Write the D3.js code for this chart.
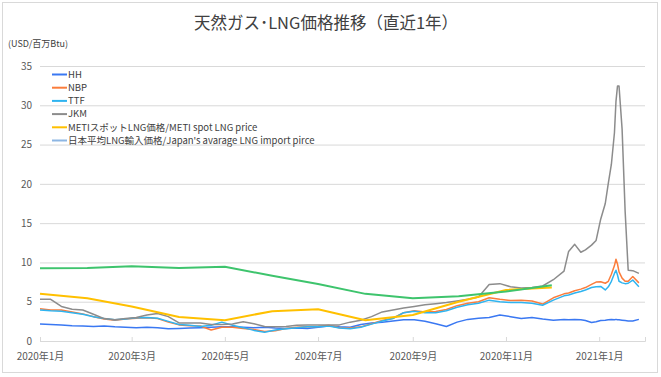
<!DOCTYPE html>
<meta charset="utf-8">
<script src="https://d3js.org/d3.v7.min.js"></script>
<style>
  body { margin: 0; background: #fff; }
  text { font-family: "Noto Sans CJK JP", "Noto Sans", sans-serif; }
</style>
<svg id="chart" width="661" height="377"></svg>
<script>
// daily series (sampled)
const dates = [
  "2020-01-01","2020-01-08","2020-01-15","2020-01-22","2020-01-29","2020-02-05","2020-02-12","2020-02-19","2020-02-26",
  "2020-03-04","2020-03-11","2020-03-18","2020-03-25","2020-04-01","2020-04-08","2020-04-15","2020-04-22","2020-04-29",
  "2020-05-06","2020-05-13","2020-05-20","2020-05-27","2020-06-03","2020-06-10","2020-06-17","2020-06-24","2020-07-01",
  "2020-07-08","2020-07-15","2020-07-22","2020-07-29","2020-08-05","2020-08-12","2020-08-19","2020-08-26","2020-09-02",
  "2020-09-09","2020-09-16","2020-09-23","2020-09-30","2020-10-07","2020-10-14","2020-10-21","2020-10-28","2020-11-04",
  "2020-11-11","2020-11-18","2020-11-25","2020-12-02","2020-12-09",
  "2020-12-12","2020-12-16","2020-12-20","2020-12-23","2020-12-27","2020-12-30",
  "2021-01-02","2021-01-05","2021-01-07","2021-01-09","2021-01-11","2021-01-12","2021-01-13","2021-01-14",
  "2021-01-16","2021-01-18","2021-01-20","2021-01-23","2021-01-27"
];
const hh = [
  2.15,2.1,2.05,1.95,1.9,1.85,1.9,1.8,1.75,1.7,1.75,1.7,1.55,1.6,1.65,1.7,1.75,1.8,1.8,1.75,
  1.7,1.75,1.65,1.6,1.65,1.6,1.75,1.9,1.8,1.75,2.1,2.3,2.4,2.55,2.7,2.7,2.5,2.2,1.85,2.4,
  2.75,2.9,3.0,3.3,3.1,2.85,3.0,2.8,2.65,2.75,
  2.7,2.75,2.7,2.6,2.35,2.45,
  2.6,2.65,2.7,2.75,2.7,2.75,2.7,2.7,2.65,2.6,2.55,2.55,2.75
];
const nbp = [
  4.1,3.95,3.95,3.7,3.45,3.1,2.8,2.65,2.8,2.9,2.95,2.85,2.4,2.05,1.95,1.9,1.4,1.75,1.75,1.6,
  1.45,1.2,1.3,1.6,1.75,1.8,1.85,2.0,1.7,1.65,1.8,2.2,2.6,2.9,3.6,3.85,3.7,3.75,4.0,4.5,
  4.8,5.0,5.5,5.3,5.15,5.2,5.1,4.7,5.5,6.0,
  6.1,6.4,6.6,6.8,7.2,7.5,
  7.55,7.35,7.6,8.5,9.6,10.4,9.8,8.8,8.0,7.6,7.6,8.2,7.4
];
const ttf = [
  3.95,3.85,3.8,3.6,3.4,3.1,2.85,2.7,2.8,2.95,3.0,2.9,2.5,2.1,2.0,1.85,2.0,2.4,2.0,1.7,
  1.35,1.1,1.4,1.55,1.7,1.8,1.8,1.9,1.65,1.55,1.75,2.15,2.55,2.85,3.6,3.8,3.6,3.6,3.85,4.3,
  4.6,4.8,5.2,5.0,4.9,4.9,4.8,4.55,5.2,5.75,
  5.85,6.1,6.3,6.5,6.8,6.9,
  6.95,6.5,6.9,7.6,8.6,9.0,8.4,7.6,7.4,7.3,7.35,7.75,6.9
];
const jkm = [
  5.3,5.3,4.4,4.05,3.95,3.4,2.85,2.7,2.85,3.0,3.3,3.5,3.1,2.3,2.3,2.3,2.1,2.1,2.15,2.45,
  2.2,1.85,1.8,1.85,2.0,2.05,2.05,2.05,2.05,2.4,2.65,3.1,3.7,3.95,4.2,4.4,4.6,4.75,4.9,5.1,
  5.3,5.6,7.2,7.3,6.9,6.75,6.8,7.0,7.8,8.9,
  11.4,12.3,11.3,11.6,12.2,12.8,
  15.5,17.5,20.1,22.5,26.5,30.5,32.45,32.45,27,16.5,9.0,8.95,8.6
];

// monthly series
const months = ["2020-01-01","2020-02-01","2020-03-01","2020-04-01","2020-05-01","2020-06-01",
                "2020-07-01","2020-08-01","2020-09-01","2020-10-01","2020-11-01","2020-12-01"];
const metiSpot = [6.0,5.45,4.4,3.05,2.65,3.8,4.05,2.65,3.3,5.0,6.5,6.8];
const japanAvg = [9.25,9.3,9.5,9.3,9.45,8.3,7.25,6.0,5.45,5.7,6.3,7.1];

const legendLabels = ["HH","NBP","TTF","JKM","METIスポットLNG価格/METI spot LNG price","日本平均LNG輸入価格/Japan's avarage LNG import pirce"];
const yTicks = [0,5,10,15,20,25,30,35];
const xTicks = ["2020-01-01","2020-03-01","2020-05-01","2020-07-01","2020-09-01","2020-11-01","2021-01-01"];

const parse = d3.timeParse("%Y-%m-%d");
const svg = d3.select("#chart");

// outer frame
svg.append("rect")
  .attr("x", 2.5).attr("y", 2.5).attr("width", 655).attr("height", 370)
  .attr("fill", "#fff").attr("stroke", "#d9d9d9");

const x = d3.scaleTime()
  .domain([parse("2020-01-01"), parse("2021-01-31")])
  .range([40, 645]);
const y = d3.scaleLinear().domain([0, 35]).range([341, 66]);

// y grid + labels
const yAxis = svg.append("g")
  .attr("transform", "translate(40,0)")
  .call(d3.axisLeft(y).tickValues(yTicks).tickSize(-605).tickPadding(8));
yAxis.select(".domain").remove();
yAxis.selectAll("line").attr("stroke", "#d9d9d9");
yAxis.selectAll("text").attr("fill", "#595959").style("font-size", "10px");

// x axis
const xAxis = svg.append("g")
  .attr("transform", "translate(0,341)")
  .call(d3.axisBottom(x).tickValues(xTicks.map(parse))
    .tickFormat(d3.timeFormat("%Y年%-m月")).tickSize(-4).tickPadding(12));
xAxis.select(".domain").attr("stroke", "#d9d9d9");
xAxis.selectAll("line").attr("stroke", "#d9d9d9");
xAxis.selectAll("text").attr("fill", "#595959").style("font-size", "10px");

// title and unit
svg.append("text")
  .attr("x", 326).attr("y", 29).attr("text-anchor", "middle")
  .attr("fill", "#404040").style("font-size", "16.5px")
  .text("天然ガス･LNG価格推移（直近1年）");
svg.append("text")
  .attr("x", 8).attr("y", 47).attr("fill", "#404040").style("font-size", "9px")
  .text("(USD/百万Btu)");

const line = d3.line().x(d => x(d[0])).y(d => y(d[1]));

const series = [
  { dates: dates, values: hh, color: "#3a78f2", width: 1.5 },
  { dates: dates, values: nbp, color: "#fb7d3c", width: 1.5 },
  { dates: dates, values: ttf, color: "#2fb4f0", width: 1.5 },
  { dates: dates, values: jkm, color: "#8c8c8c", width: 1.5 },
  { dates: months, values: metiSpot, color: "#ffc000", width: 2 },
  { dates: months, values: japanAvg, color: "#3ec46d", width: 2 }
];

svg.append("g").selectAll("path")
  .data(series)
  .join("path")
    .attr("fill", "none")
    .attr("stroke", d => d.color)
    .attr("stroke-width", d => d.width)
    .attr("stroke-linejoin", "round")
    .attr("d", d => line(d.dates.map((t, i) => [parse(t), d.values[i]])));

// legend (last swatch is light blue as in the original)
const legendColors = ["#3a78f2","#fb7d3c","#2fb4f0","#8c8c8c","#ffc000","#8db6e3"];
const lg = svg.append("g").selectAll("g")
  .data(legendLabels)
  .join("g")
    .attr("transform", (d, i) => `translate(52,${74.5 + i * 13.2})`);
lg.append("line")
  .attr("x1", 0).attr("x2", 15)
  .attr("stroke", (d, i) => legendColors[i]).attr("stroke-width", 2);
lg.append("text")
  .attr("x", 16).attr("dy", "0.35em")
  .attr("fill", "#404040").style("font-size", "9.5px")
  .text(d => d);
</script>
